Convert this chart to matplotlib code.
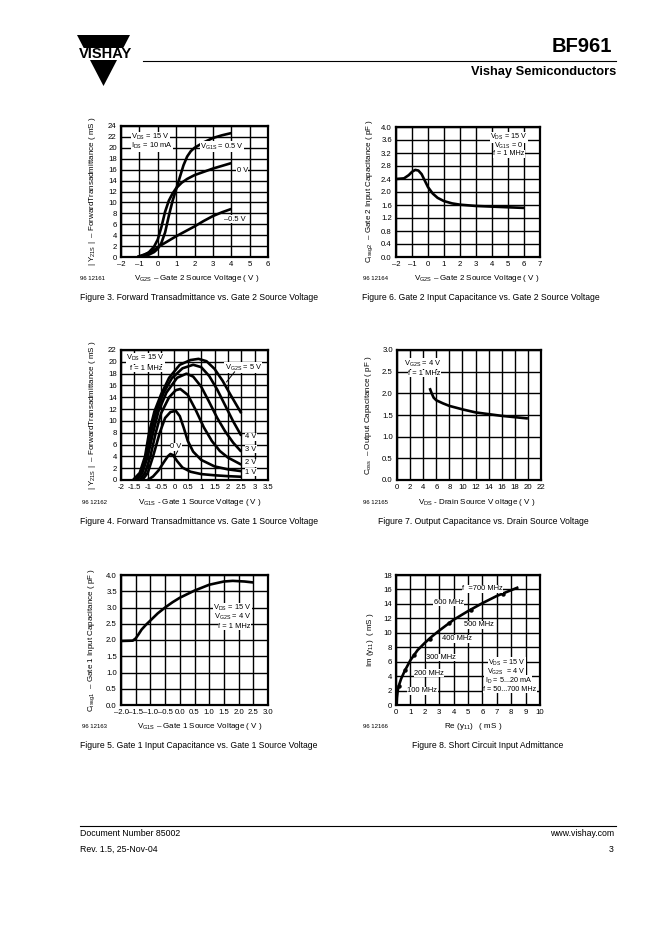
import matplotlib
matplotlib.use("Agg")
import matplotlib.pyplot as plt
from matplotlib.patches import Polygon, Rectangle

plt.rcParams['font.family'] = ['Liberation Sans', 'DejaVu Sans']
plt.rcParams['mathtext.fontset'] = 'custom'
plt.rcParams['mathtext.rm'] = 'Liberation Sans'
plt.rcParams['mathtext.default'] = 'regular'

W, H = 662, 936

# ---- Figure 3: |Y21s| vs VG2S, for VG1S = 0.5, 0, -0.5 V
f3_x_05 = [-1.1, -0.7, -0.5, -0.2, 0.0, 0.2, 0.4, 0.6, 0.8, 1.0, 1.2, 1.4, 1.6, 1.8, 2.0, 2.5, 3.0, 3.5, 4.0]
f3_y_05 = [0.0, 0.2, 0.4, 0.9, 1.5, 2.6, 4.5, 7.5, 10.2, 12.4, 14.6, 16.8, 18.4, 19.4, 20.0, 21.0, 21.8, 22.3, 22.7]
f3_x_00 = [-1.1, -0.7, -0.5, -0.2, 0.0, 0.2, 0.4, 0.6, 0.8, 1.0, 1.3, 1.6, 2.0, 2.5, 3.0, 3.5, 4.0]
f3_y_00 = [0.0, 0.4, 0.8, 1.9, 3.2, 5.5, 8.3, 10.3, 11.6, 12.6, 13.6, 14.3, 15.0, 15.6, 16.2, 16.7, 17.2]
f3_x_m05 = [-1.1, -0.7, -0.5, -0.2, 0.0, 0.5, 1.0, 1.5, 2.0, 2.5, 3.0, 3.5, 4.0]
f3_y_m05 = [0.0, 0.5, 0.8, 1.3, 1.8, 2.8, 3.8, 4.7, 5.6, 6.6, 7.5, 8.2, 8.8]

# ---- Figure 6: Cissg2 vs VG2S
f6_x = [-2.0, -1.5, -1.2, -1.0, -0.8, -0.6, -0.4, -0.2, 0.0, 0.3, 0.6, 1.0, 1.5, 2.0, 3.0, 4.0, 5.0, 6.0]
f6_y = [2.40, 2.42, 2.52, 2.62, 2.68, 2.66, 2.55, 2.35, 2.15, 1.95, 1.82, 1.72, 1.65, 1.61, 1.57, 1.55, 1.53, 1.51]

# ---- Figure 4: |Y21s| vs VG1S, for VG2S = 0..5 V
f4_x_5 = [-1.55, -1.3, -1.1, -0.95, -0.75, -0.5, -0.2, 0.2, 0.6, 0.9, 1.2, 1.5, 1.8, 2.1, 2.5]
f4_y_5 = [0.0, 1.2, 4.0, 8.0, 11.6, 14.5, 17.3, 19.5, 20.3, 20.5, 20.1, 18.8, 16.8, 14.4, 11.3]
f4_x_4 = [-1.5, -1.25, -1.05, -0.88, -0.68, -0.4, -0.1, 0.3, 0.7, 1.0, 1.3, 1.6, 1.9, 2.2, 2.5]
f4_y_4 = [0.0, 1.2, 4.0, 8.0, 11.6, 14.8, 17.2, 18.9, 19.5, 19.1, 17.6, 15.3, 12.6, 9.9, 7.5]
f4_x_3 = [-1.4, -1.2, -1.0, -0.8, -0.6, -0.3, 0.1, 0.45, 0.7, 1.0, 1.3, 1.6, 1.9, 2.2, 2.5]
f4_y_3 = [0.0, 1.2, 4.0, 8.0, 11.6, 14.8, 17.3, 18.0, 17.5, 15.8, 13.2, 10.5, 8.2, 6.3, 4.8]
f4_x_2 = [-1.3, -1.1, -0.9, -0.7, -0.5, -0.2, 0.05, 0.22, 0.5, 0.8, 1.1, 1.4, 1.7, 2.0, 2.5]
f4_y_2 = [0.0, 1.2, 4.0, 8.0, 11.3, 14.0, 15.2, 15.4, 14.4, 11.8, 8.9, 6.6, 4.9, 3.8, 2.6]
f4_x_1 = [-1.2, -1.0, -0.8, -0.55, -0.35, -0.15, 0.05, 0.2, 0.35, 0.5, 0.7, 1.0, 1.5, 2.0, 2.5]
f4_y_1 = [0.0, 1.2, 4.0, 8.0, 10.5, 11.5, 11.7, 10.8, 8.8, 6.6, 4.8, 3.4, 2.3, 1.8, 1.5]
f4_x_0 = [-1.0, -0.8, -0.6, -0.4, -0.25, -0.15, -0.05, 0.1, 0.3, 0.6, 1.0, 1.5, 2.0, 2.5]
f4_y_0 = [0.0, 0.6, 1.6, 3.0, 4.0, 4.4, 4.2, 3.2, 2.1, 1.4, 1.0, 0.8, 0.65, 0.55]

# ---- Figure 7: Coss vs VDS
f7_x = [5.0, 5.3, 5.6, 6.0, 7.0, 8.0, 10.0, 12.0, 14.0, 16.0, 18.0, 20.0]
f7_y = [2.12, 2.0, 1.9, 1.84, 1.77, 1.71, 1.63, 1.56, 1.52, 1.48, 1.45, 1.42]

# ---- Figure 5: Cissg1 vs VG1S
f5_x = [-2.0, -1.6, -1.5, -1.4, -1.3, -1.15, -1.0, -0.75, -0.5, -0.25, 0.0, 0.5, 1.0, 1.5, 1.8, 2.2, 2.5]
f5_y = [1.97, 1.98, 2.05, 2.18, 2.32, 2.47, 2.6, 2.82, 3.0, 3.16, 3.3, 3.52, 3.7, 3.8, 3.82, 3.8, 3.77]

# ---- Figure 8: Im(y11) vs Re(y11)
f8_re = [0.05, 0.07, 0.12, 0.2, 0.35, 0.6, 1.0, 1.5, 2.0, 2.5, 3.0, 4.0, 5.0, 6.0, 7.0, 8.0, 8.5]
f8_im = [0.0, 1.0, 2.0, 2.7, 3.6, 4.7, 6.2, 7.6, 8.6, 9.5, 10.3, 11.8, 13.0, 14.1, 15.1, 15.9, 16.3]
f8_mark_re = [0.23, 0.63, 1.23, 2.33, 3.67, 5.23, 7.44]
f8_mark_im = [2.6, 4.8, 6.9, 9.1, 11.3, 13.2, 15.4]
f8_freq = ['100 MHz', '200 MHz', '300 MHz', '400 MHz', '500 MHz', '600 MHz', 'f  =700 MHz']

fig = plt.figure(figsize=(W / 100, H / 100), dpi=100)
bg = fig.add_axes([0, 0, 1, 1], zorder=-5)
bg.set_xlim(0, W)
bg.set_ylim(H, 0)
bg.axis('off')


def make_ax(left, top, right, bottom):
    ax = fig.add_axes([left / W, 1 - bottom / H, (right - left) / W, (bottom - top) / H])
    for s in ax.spines.values():
        s.set_linewidth(1.6)
    ax.grid(True, color='black', lw=1.0)
    ax.set_axisbelow(True)
    ax.tick_params(length=0, labelsize=5.6, pad=3)
    return ax


def box_text(ax, x, y, s, ha='center', size=5.4):
    ax.text(x, y, s, ha=ha, va='center', fontsize=size, zorder=4,
            bbox=dict(fc='white', ec='none', pad=0.2))


def curve(ax, x, y):
    ax.plot(x, y, color='black', lw=1.9, solid_capstyle='butt', zorder=3)


def t(x, y, s, **kw):
    bg.text(x, y, s, **kw)


# header
bg.add_patch(Polygon([(77, 35), (130, 35), (103.5, 86)], closed=True, fc='black', ec='none'))
bg.add_patch(Rectangle((70, 48), 70, 12, fc='white', ec='none'))
t(105.5, 54.5, 'VISHAY', ha='center', va='center', fontsize=10.5, fontweight='bold')
bg.plot([143, 616], [61, 61], color='black', lw=0.8)
t(612, 47, 'BF961', ha='right', va='center', fontsize=14.5, fontweight='bold')
t(616, 72, 'Vishay Semiconductors', ha='right', va='center', fontsize=9.3, fontweight='bold')

# footer
bg.plot([80, 616], [826, 826], color='black', lw=0.8)
t(80, 833, 'Document Number 85002', ha='left', va='center', fontsize=6.3)
t(80, 849, 'Rev. 1.5, 25-Nov-04', ha='left', va='center', fontsize=6.3)
t(614, 833, 'www.vishay.com', ha='right', va='center', fontsize=6.3)
t(614, 849, '3', ha='right', va='center', fontsize=6.3)

dash = '\u2013'

# ---------------- Figure 3
ax = make_ax(121, 126, 268, 257)
ax.set_xlim(-2, 6)
ax.set_ylim(0, 24)
ax.set_xticks(range(-2, 7))
ax.set_xticklabels([(dash + str(-v)) if v < 0 else str(v) for v in range(-2, 7)])
ax.set_yticks(range(0, 25, 2))
curve(ax, f3_x_05, f3_y_05)
curve(ax, f3_x_00, f3_y_00)
curve(ax, f3_x_m05, f3_y_m05)
box_text(ax, -1.45, 22.0, r'V$_{DS}$ = 15 V', ha='left')
box_text(ax, -1.45, 20.3, r'I$_{DS}$ = 10 mA', ha='left')
box_text(ax, 3.5, 20.2, r'V$_{G1S}$ = 0.5 V')
box_text(ax, 4.6, 15.9, '0 V')
box_text(ax, 4.17, 6.95, dash + '0.5 V')
t(93, 191, r'| Y$_{21S}$ |  ' + dash + ' ForwardTransadmittance ( mS )', rotation=90,
  ha='center', va='center', fontsize=5.8)
t(197, 278, r'V$_{G2S}$ ' + dash + ' Gate 2 Source Voltage ( V )', ha='center', va='center', fontsize=5.8)
t(80, 278, '96 12161', ha='left', va='center', fontsize=4.3)
t(80, 298, 'Figure 3. Forward Transadmittance vs. Gate 2 Source Voltage', ha='left', va='center', fontsize=6.2)

# ---------------- Figure 6
ax = make_ax(396, 127, 540, 257)
ax.set_xlim(-2, 7)
ax.set_ylim(0, 4.0)
ax.set_xticks(range(-2, 8))
ax.set_xticklabels([(dash + str(-v)) if v < 0 else str(v) for v in range(-2, 8)])
yt6 = [i * 0.4 for i in range(11)]
ax.set_yticks(yt6)
ax.set_yticklabels(['%.1f' % v for v in yt6])
curve(ax, f6_x, f6_y)
box_text(ax, 5.05, 3.68, r'V$_{DS}$ = 15 V', size=5.2)
box_text(ax, 5.05, 3.42, r'V$_{G1S}$ = 0', size=5.2)
box_text(ax, 5.05, 3.17, 'f = 1 MHz', size=5.2)
t(370, 191, r'C$_{issg2}$  ' + dash + ' Gate 2 Input Capacitance ( pF )', rotation=90,
  ha='center', va='center', fontsize=5.8)
t(477, 278, r'V$_{G2S}$ ' + dash + ' Gate 2 Source Voltage ( V )', ha='center', va='center', fontsize=5.8)
t(363, 278, '96 12164', ha='left', va='center', fontsize=4.3)
t(362, 298, 'Figure 6. Gate 2 Input Capacitance vs. Gate 2 Source Voltage', ha='left', va='center', fontsize=6.2)

# ---------------- Figure 4
ax = make_ax(121, 350, 268, 480)
ax.set_xlim(-2, 3.5)
ax.set_ylim(0, 22)
xt4 = [-2, -1.5, -1, -0.5, 0, 0.5, 1, 1.5, 2, 2.5, 3, 3.5]
ax.set_xticks(xt4)
ax.set_xticklabels(['%g' % v for v in xt4])
ax.set_yticks(range(0, 23, 2))
for xs, ys in [(f4_x_5, f4_y_5), (f4_x_4, f4_y_4), (f4_x_3, f4_y_3),
               (f4_x_2, f4_y_2), (f4_x_1, f4_y_1), (f4_x_0, f4_y_0)]:
    curve(ax, xs, ys)
box_text(ax, -1.8, 20.6, r'V$_{DS}$ = 15 V', ha='left')
box_text(ax, -1.65, 18.9, 'f = 1 MHz', ha='left')
box_text(ax, 2.58, 19.0, r'V$_{G2S}$ = 5 V')
ax.plot([2.25, 1.95], [18.3, 16.6], color='black', lw=0.7, zorder=4)
box_text(ax, 0.05, 5.6, '0 V')
ax.plot([0.12, 0.0], [4.9, 3.9], color='black', lw=0.7, zorder=4)
box_text(ax, 2.85, 7.3, '4 V')
box_text(ax, 2.85, 5.2, '3 V')
box_text(ax, 2.85, 2.9, '2 V')
box_text(ax, 2.85, 1.35, '1 V')
t(92, 415, r'| Y$_{21S}$ |  ' + dash + ' ForwardTransadmittance ( mS )', rotation=90,
  ha='center', va='center', fontsize=5.8)
t(200, 502, r'V$_{G1S}$ - Gate 1 Source Voltage ( V )', ha='center', va='center', fontsize=5.8)
t(82, 502, '96 12162', ha='left', va='center', fontsize=4.3)
t(80, 522, 'Figure 4. Forward Transadmittance vs. Gate 1 Source Voltage', ha='left', va='center', fontsize=6.2)

# ---------------- Figure 7
ax = make_ax(397, 350, 541, 480)
ax.set_xlim(0, 22)
ax.set_ylim(0, 3.0)
ax.set_xticks(range(0, 23, 2))
yt7 = [i * 0.5 for i in range(7)]
ax.set_yticks(yt7)
ax.set_yticklabels(['%.1f' % v for v in yt7])
curve(ax, f7_x, f7_y)
box_text(ax, 4.0, 2.68, r'V$_{G2S}$ = 4 V')
box_text(ax, 4.2, 2.46, 'f = 1 MHz')
t(368, 415, r'C$_{oss}$  ' + dash + ' Output Capacitance ( pF )', rotation=90,
  ha='center', va='center', fontsize=5.8)
t(477, 502, r'V$_{DS}$ - Drain Source V oltage ( V )', ha='center', va='center', fontsize=5.8)
t(363, 502, '96 12165', ha='left', va='center', fontsize=4.3)
t(483, 522, 'Figure 7. Output Capacitance vs. Drain Source Voltage', ha='center', va='center', fontsize=6.2)

# ---------------- Figure 5
ax = make_ax(121, 575, 268, 705)
ax.set_xlim(-2, 3)
ax.set_ylim(0, 4.0)
xt5 = [-2 + i * 0.5 for i in range(11)]
ax.set_xticks(xt5)
ax.set_xticklabels([(dash + '%.1f' % -v) if v < 0 else '%.1f' % v for v in xt5])
yt5 = [i * 0.5 for i in range(9)]
ax.set_yticks(yt5)
ax.set_yticklabels(['%.1f' % v for v in yt5])
curve(ax, f5_x, f5_y)
box_text(ax, 1.8, 2.98, r'V$_{DS}$ = 15 V')
box_text(ax, 1.8, 2.70, r'V$_{G2S}$ = 4 V')
box_text(ax, 1.85, 2.42, 'f = 1 MHz')
t(92, 640, r'C$_{issg1}$  ' + dash + ' Gate 1 Input Capacitance ( pF )', rotation=90,
  ha='center', va='center', fontsize=5.8)
t(200, 727, r'V$_{G1S}$ ' + dash + ' Gate 1 Source Voltage ( V )', ha='center', va='center', fontsize=5.8)
t(82, 727, '96 12163', ha='left', va='center', fontsize=4.3)
t(80, 746, 'Figure 5. Gate 1 Input Capacitance vs. Gate 1 Source Voltage', ha='left', va='center', fontsize=6.2)

# ---------------- Figure 8
ax = make_ax(396, 575, 540, 705)
ax.set_xlim(0, 10)
ax.set_ylim(0, 18)
ax.set_xticks(range(0, 11))
ax.set_yticks(range(0, 19, 2))
curve(ax, f8_re, f8_im)
ax.plot(f8_mark_re, f8_mark_im, ls='none', marker='o', ms=2.2, color='black', zorder=3)
f8_lbl_x = [1.83, 2.3, 3.15, 4.23, 5.76, 3.65, 6.0]
f8_lbl_y = [1.98, 4.39, 6.55, 9.14, 11.1, 14.2, 16.07]
for lx, ly, s in zip(f8_lbl_x, f8_lbl_y, f8_freq):
    box_text(ax, lx, ly, s)
box_text(ax, 7.68, 5.85, r'V$_{DS}$ = 15 V', size=5.2)
box_text(ax, 7.68, 4.62, r'V$_{G2S}$  = 4 V', size=5.2)
box_text(ax, 7.8, 3.38, r'I$_{D}$ = 5...20 mA', size=5.2)
box_text(ax, 7.9, 2.15, 'f = 50...700 MHz', size=5.2)
t(370, 640, r'Im (y$_{11}$)  ( mS )', rotation=90, ha='center', va='center', fontsize=5.8)
t(473, 727, r'Re (y$_{11}$)   ( mS )', ha='center', va='center', fontsize=5.8)
t(363, 727, '96 12166', ha='left', va='center', fontsize=4.3)
t(488, 746, 'Figure 8. Short Circuit Input Admittance', ha='center', va='center', fontsize=6.2)

fig.savefig('out.png', dpi=100)
